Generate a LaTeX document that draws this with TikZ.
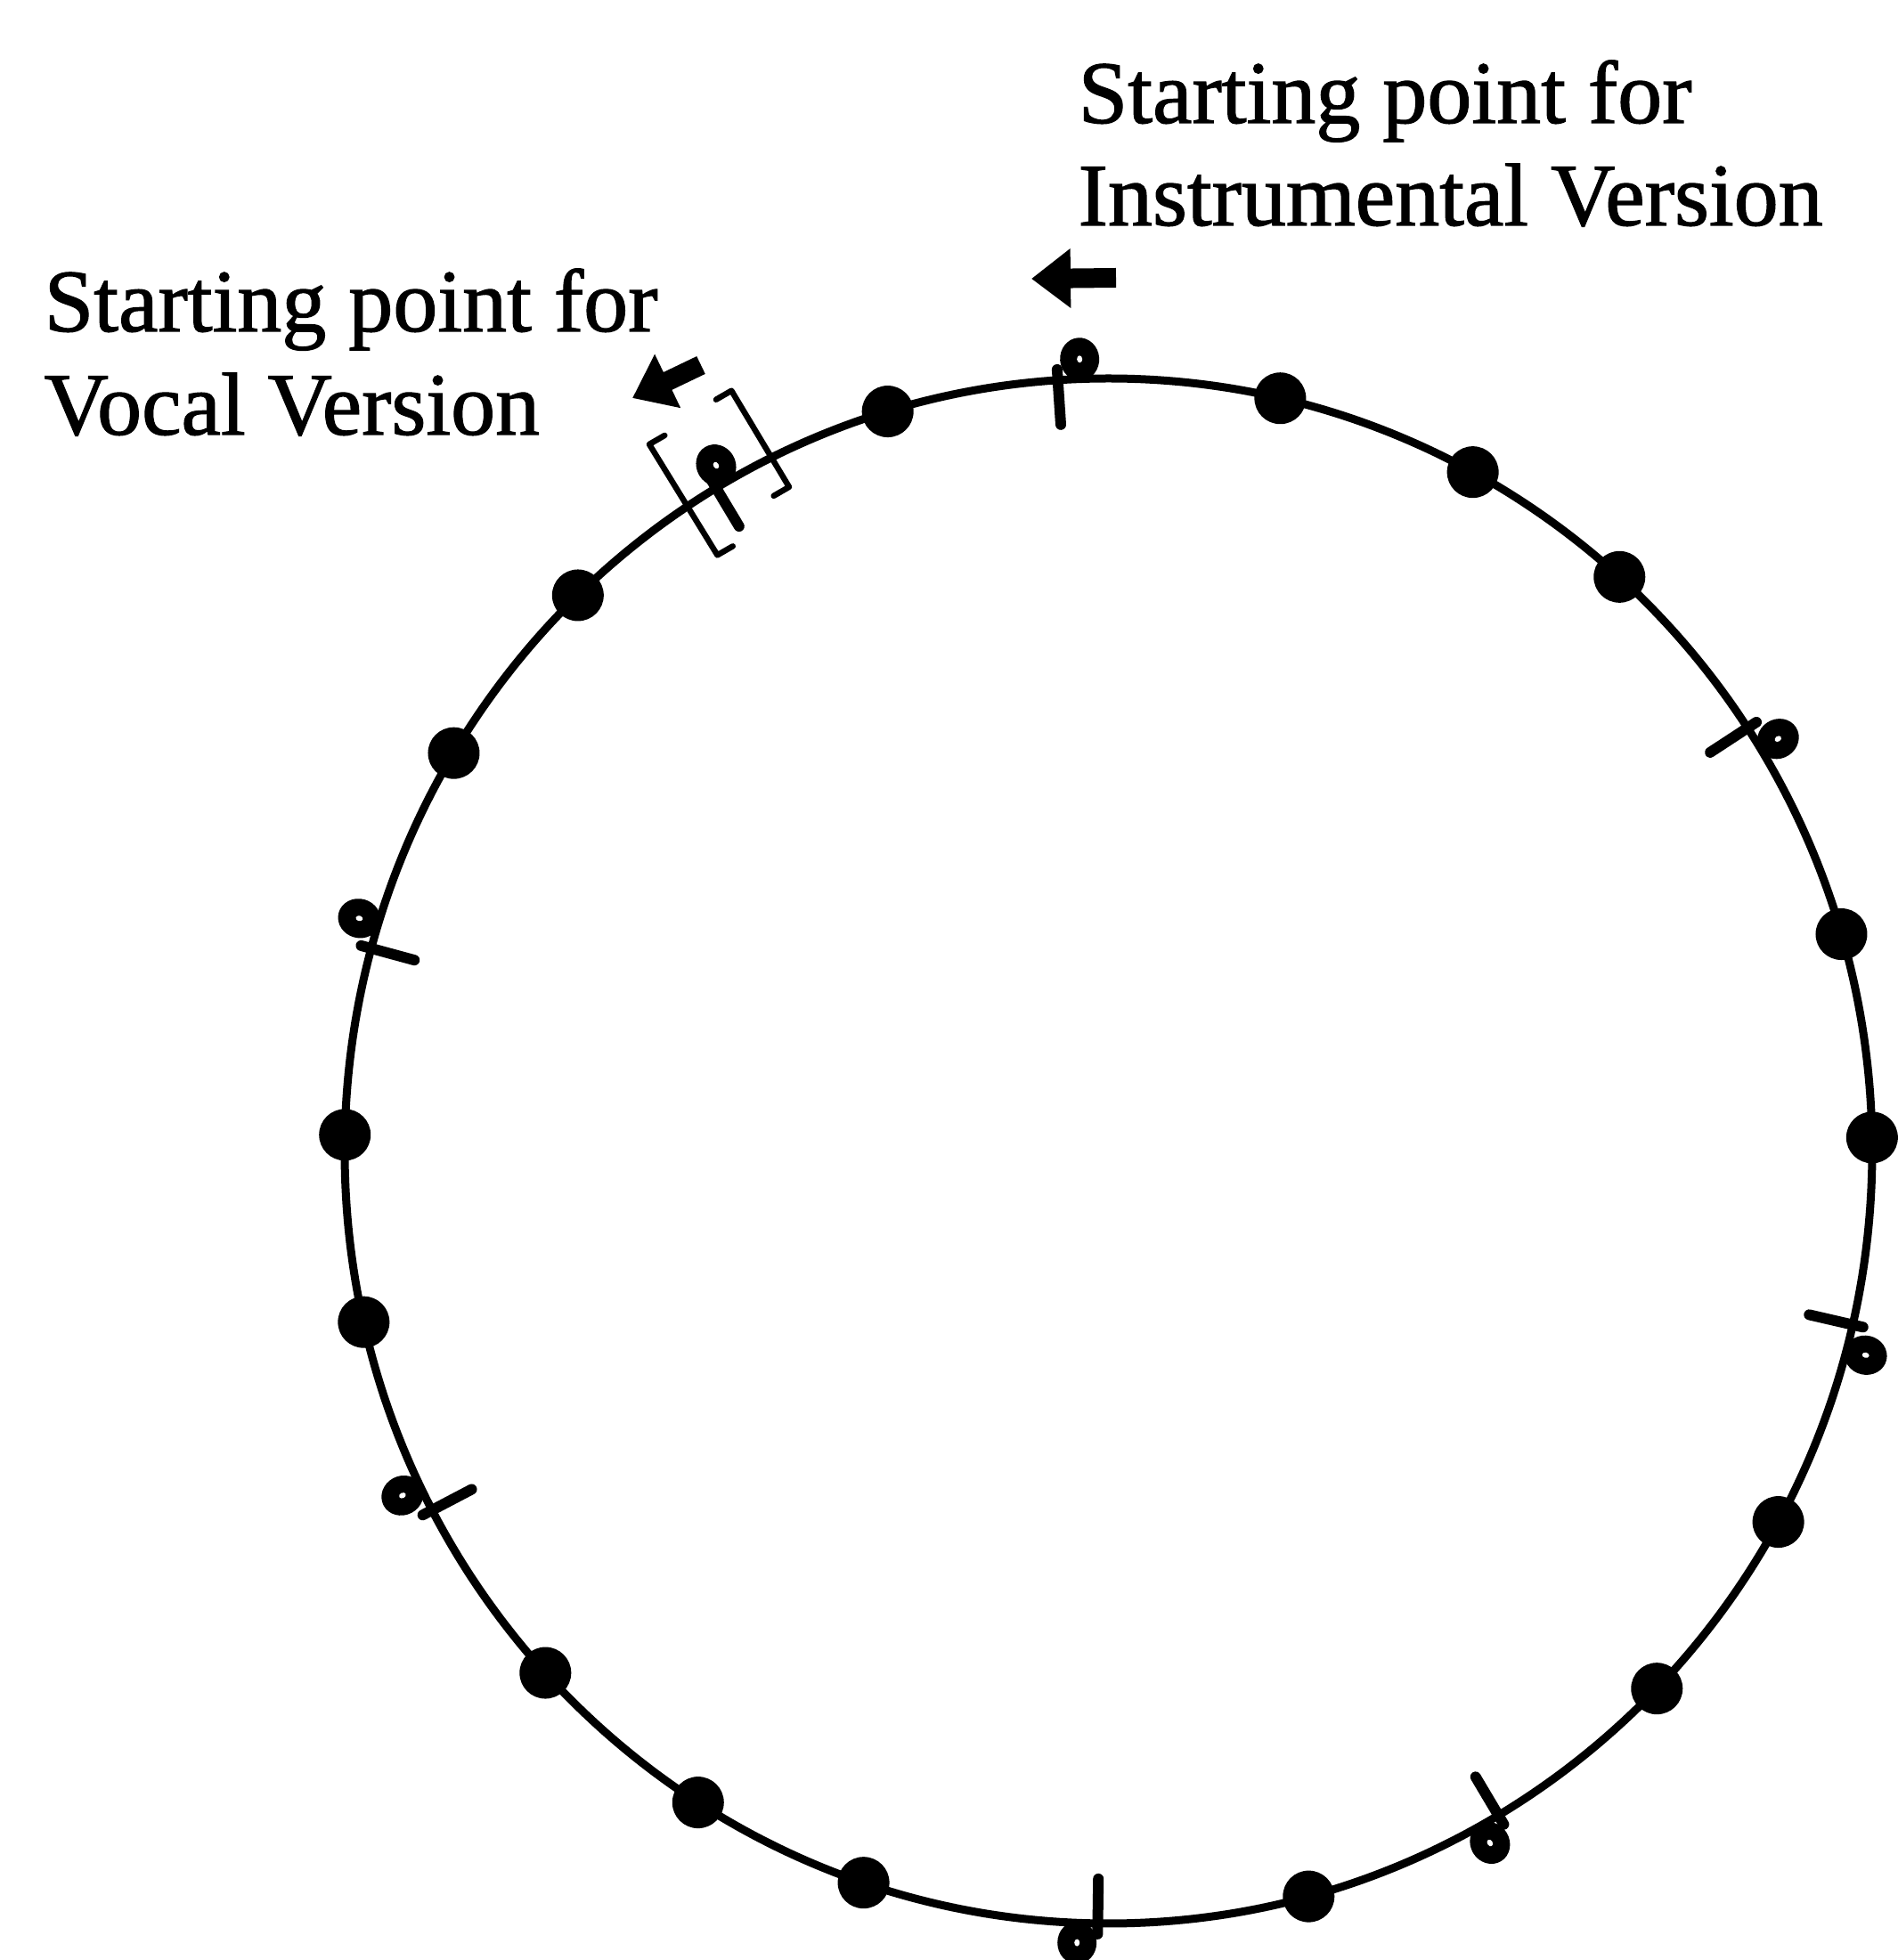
\documentclass[tikz,border=0pt]{standalone}
\usepackage{fontspec}
\setmainfont{Liberation Serif}
\newfontfamily\heavyserif[FakeBold=1.2]{Liberation Serif}
\usetikzlibrary{arrows.meta,calc,shapes.geometric}
\begin{document}
\begin{tikzpicture}[
  ring/.style={line width=0.09cm, black},
  dotmark/.style={circle, fill=black, minimum size=0.58cm, inner sep=0pt},
  stemline/.style={line width=0.12cm, line cap=round},
  headmark/.style={ellipse, fill=black, minimum width=0.48cm, minimum height=0.44cm, inner sep=0pt},
  holemark/.style={ellipse, fill=white, minimum width=0.08cm, minimum height=0.06cm, inner sep=0pt},
  bracketline/.style={line width=0.065cm, line cap=round, line join=round},
  startarrow/.style={line width=0.22cm, -{Triangle[length=0.44cm, width=0.64cm]}},
  lbltext/.style={anchor=base west, inner sep=0pt, font=\heavyserif\fontsize{28.45}{33}\selectfont}
]
\def\cx{12.445}\def\cy{9.085}\def\rx{8.575}\def\ry{8.675}
\useasboundingbox (0,0) rectangle (21.31,22.01);
\fill[white] (0,0) rectangle (21.31,22.01);

% the cycle
\draw[ring] (\cx,\cy) ellipse [x radius=\rx, y radius=\ry];

% filled dots
\foreach \a [count=\i] in {77,61.5,48,16.3,1,-28.7,-44.1,-74.8,-108.7,-122.5,-137.5,-167.2,178.8,149,134,106.8}
  \node[dotmark] (d\i) at ({\cx+\rx*cos(\a)},{\cy+\ry*sin(\a)}) {};

% half notes
\foreach \a/\o/\n in {93.8/0.26/n1, 33.2/0.29/n2, -13/0.30/n3, -59.3/0.24/n4, -90.8/0.23/n5, -152.3/0.30/n6, 164.8/0.29/n7, 120.9/0.13/n8} {
  \coordinate (\n) at ({\cx+\rx*cos(\a)},{\cy+\ry*sin(\a)});
  \draw[stemline] ($(\n)+({0.12*cos(\a)},{0.12*sin(\a)})$) -- ($(\n)+({-0.5*cos(\a)},{-0.5*sin(\a)})$);
  \node[headmark, rotate=\a] (\n h) at ($(\n)+({0.22*cos(\a)+\o*sin(\a)},{0.22*sin(\a)-\o*cos(\a)})$) {};
  \node[holemark, rotate=\a] (\n o) at (\n h) {};
}

% brackets round the vocal starting note
\coordinate (bc) at ({\cx+(\rx+0.12)*cos(120)},{\cy+(\ry+0.12)*sin(120)});
\begin{scope}[shift={(bc)}, rotate=30]
  \draw[bracketline] (-0.34,0.68) -- (-0.54,0.68) -- (-0.50,-0.78) -- (-0.30,-0.78);
  \draw[bracketline] (0.36,0.74) -- (0.56,0.74) -- (0.58,-0.52) -- (0.38,-0.52);
\end{scope}

% arrows
\coordinate (ia0) at (12.53,18.89);
\coordinate (ia1) at (11.58,18.88);
\draw[startarrow] (ia0) -- (ia1);
\coordinate (va0) at (7.87,17.91);
\coordinate (va1) at (7.10,17.54);
\draw[startarrow] (va0) -- (va1);

% labels
\node[lbltext] (it1) at (12.10,20.63) {Starting point for};
\node[lbltext] (it2) at (12.10,19.48) {Instrumental Version};
\node[lbltext] (vt1) at (0.49,18.29) {Starting point for};
\node[lbltext] (vt2) at (0.49,17.13) {Vocal Version};
\end{tikzpicture}
\end{document}
